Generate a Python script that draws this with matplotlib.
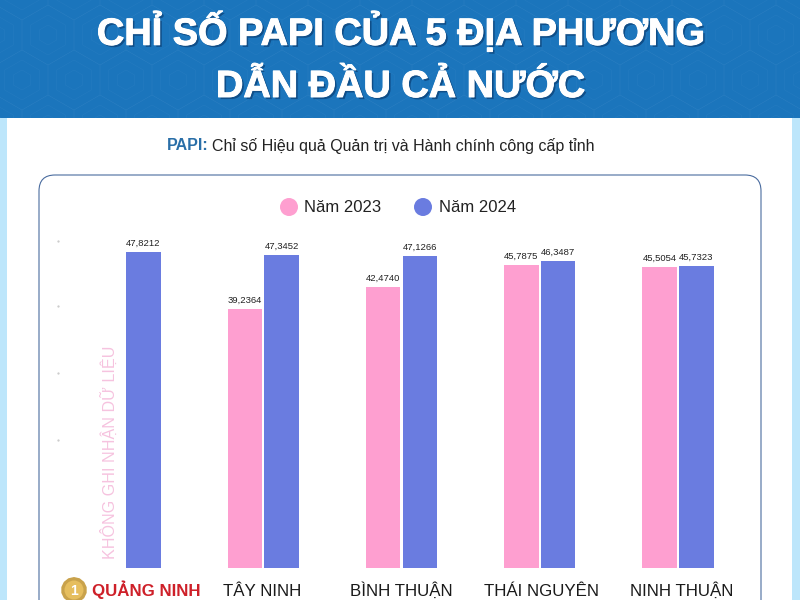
import matplotlib
matplotlib.use('Agg')
import matplotlib.pyplot as plt
import matplotlib.patheffects as pe
from matplotlib.patches import FancyBboxPatch, Rectangle, Circle, RegularPolygon
import numpy as np

plt.rcParams['font.family'] = ['Liberation Sans', 'DejaVu Sans']

provinces = ['QUẢNG NINH', 'TÂY NINH', 'BÌNH THUẬN', 'THÁI NGUYÊN', 'NINH THUẬN']
values_2023 = [np.nan, 39.2364, 42.4740, 45.7875, 45.5054]
values_2024 = [47.8212, 47.3452, 47.1266, 46.3487, 45.7323]
legend_labels = ['Năm 2023', 'Năm 2024']
no_data_label = 'KHÔNG GHI NHẬN DỮ LIỆU'

PINK = '#FE9FD0'
BLUE = '#6A7CE0'

fig = plt.figure(figsize=(8, 6), dpi=100, facecolor='white')

# page decorations, in pixel coordinates
bg = fig.add_axes([0, 0, 1, 1])
bg.set_xlim(0, 800)
bg.set_ylim(600, 0)
bg.axis('off')

bg.add_patch(Rectangle((0, 118), 7, 482, color='#BDE6FB', lw=0))
bg.add_patch(Rectangle((792, 118), 8, 482, color='#BDE6FB', lw=0))
header = Rectangle((0, 0), 800, 118, color='#1B75BC', lw=0, zorder=1)
bg.add_patch(header)

# faint geometric pattern in the header
for cx in np.arange(-30, 830, 52):
    for j, cy in enumerate(np.arange(-10, 140, 45)):
        x0 = cx + (26 if j % 2 else 0)
        for r in (10, 20, 30):
            hexa = RegularPolygon((x0, cy), 6, radius=r, fill=False,
                                  ec='#3F8CCB', lw=0.4, alpha=0.25, zorder=2)
            bg.add_patch(hexa)
            hexa.set_clip_path(header)

shadow = [pe.withSimplePatchShadow(offset=(1.5, -1.5), shadow_rgbFace='#0B3E73', alpha=0.7),
          pe.Stroke(linewidth=0.7, foreground='white'), pe.Normal()]
bg.text(400, 32, 'CHỈ SỐ PAPI CỦA 5 ĐỊA PHƯƠNG', color='white', fontsize=27.3,
        fontweight='bold', ha='center', va='center', zorder=5, path_effects=shadow)
bg.text(400, 87, 'DẪN ĐẦU CẢ NƯỚC', color='white', fontsize=27.3,
        fontweight='bold', ha='center', va='center', zorder=5, path_effects=shadow)

bg.text(167, 146, 'PAPI:', color='#2A6FA8', fontsize=11.5, fontweight='bold', va='center')
bg.text(212, 146, 'Chỉ số Hiệu quả Quản trị và Hành chính công cấp tỉnh', color='#222222',
        fontsize=11.5, va='center')

bg.add_patch(FancyBboxPatch((39, 175), 722, 460, boxstyle='round,pad=0,rounding_size=16',
                            fc='white', ec='#4A6C9F', lw=0.8, zorder=2))

# legend
bg.add_patch(Circle((289, 207), 9, color=PINK, lw=0, zorder=3))
bg.add_patch(Circle((423, 207), 9, color=BLUE, lw=0, zorder=3))
bg.text(304, 207, legend_labels[0], fontsize=12, color='#222222', va='center', zorder=3)
bg.text(439, 207, legend_labels[1], fontsize=12, color='#222222', va='center', zorder=3)

# leftover tick dots
for y in (241, 306, 373, 440):
    bg.plot([58], [y], marker='.', ms=1.2, color='#C8C8C8', zorder=3)

# medal
bg.add_patch(RegularPolygon((74, 590), 14, radius=13, color='#C9A24B', lw=0, zorder=3))
bg.add_patch(Circle((74, 590), 9.5, color='#E6BE5E', lw=0, zorder=4))
bg.text(74, 591, '1', color='white', fontsize=10, fontweight='bold', ha='center',
        va='center', zorder=5)

# chart
ax = fig.add_axes([56 / 800, (600 - 568) / 600, 691 / 800, 332 / 600])
ax.patch.set_alpha(0)
x = np.arange(len(provinces))
bar_w = 0.25
off = 0.133
bars_a = ax.bar(x - off, values_2023, bar_w, color=PINK)
bars_b = ax.bar(x + off, values_2024, bar_w, color=BLUE)

for bars, vals in ((bars_a, values_2023), (bars_b, values_2024)):
    for b, v in zip(bars, vals):
        if np.isnan(v):
            continue
        ax.annotate(f'{v:.4f}'.replace('.', ','), (b.get_x() + b.get_width() / 2, v),
                    xytext=(0, 3), textcoords='offset points', ha='center', va='bottom',
                    fontsize=6.8, color='#222222')

ax.set_xlim(-0.5, 4.5)
ax.set_ylim(0, 50.2)
for s in ax.spines.values():
    s.set_visible(False)
ax.set_yticks([])
ax.set_xticks([])

# province names sit slightly off the group centres
label_shift = [0.15, -0.005, 0, 0.01, 0.03]
for i, name in enumerate(provinces):
    first = i == 0
    ax.annotate(name, (i + label_shift[i], 0), xytext=(0, -20), textcoords='offset points',
                ha='center', va='baseline', fontsize=12.2, annotation_clip=False,
                color='#CE2029' if first else '#1a1a1a',
                fontweight='bold' if first else 'normal')

ax.text(-0.115, 1.4, no_data_label, rotation=90, color='#F6C3DF', fontsize=11.6,
        ha='center', va='bottom')

fig.savefig('out.png', dpi=100)
